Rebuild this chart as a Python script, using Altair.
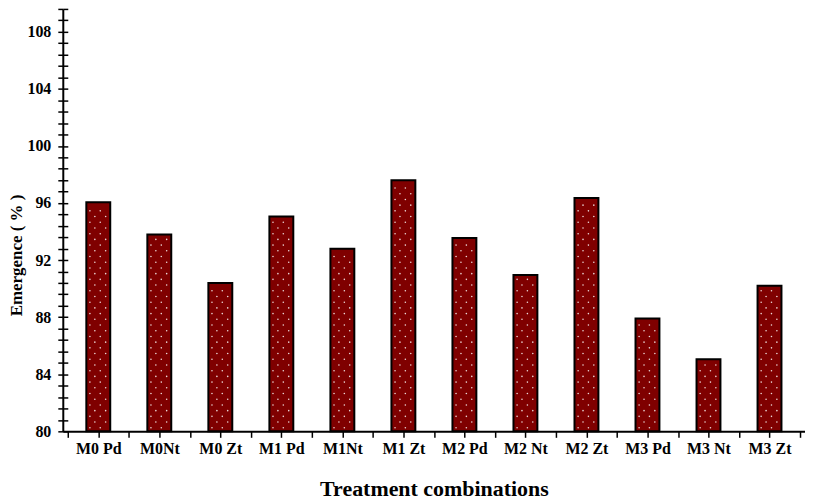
import json
import altair as alt
import pandas as pd

# ---- data ----
categories = ["M0 Pd", "M0Nt", "M0 Zt", "M1 Pd", "M1Nt", "M1 Zt",
              "M2 Pd", "M2 Nt", "M2 Zt", "M3 Pd", "M3 Nt", "M3 Zt"]
emergence = [96.05, 93.8, 90.4, 95.05, 92.8, 97.6,
             93.55, 90.95, 96.35, 87.9, 85.05, 90.2]
y_tick_values = [round(80 + 0.8 * i, 1) for i in range(38)]   # minor unit 0.8
x_tick_values = [i * 0.5 - 0.5 for i in range(25)]            # band edges + centres

W, H = 745, 424
FONT = "Liberation Serif"
px_per_x = W / 12.0

df = pd.DataFrame({"idx": list(range(len(categories))), "cat": categories, "val": emergence})

# white dotted texture inside each bar (derived from the bar values)
rows = []
for i, v in enumerate(emergence):
    k = 0
    y = 80.25
    while y < v - 0.2:
        offs = (-8.5, 2.0) if k % 2 == 0 else (-3.5, 7.5)
        for o in offs:
            rows.append({"idx": i + o / px_per_x, "y": y})
        y += 0.4
        k += 1
dots_df = pd.DataFrame(rows)

xscale = alt.Scale(domain=[-0.5, 11.5], nice=False, zero=False)
yscale = alt.Scale(domain=[80, 109.6], nice=False, zero=False)

names_js = json.dumps(categories)

x_axis = alt.Axis(
    values=x_tick_values,
    labelExpr=f"datum.value % 1 == 0 ? {names_js}[datum.value] : ''",
    title="Treatment combinations",
    orient="bottom",
    tickSize=6, tickWidth=1.5, tickColor="black",
    domainColor="black", domainWidth=2,
    labelFont=FONT, labelFontSize=16, labelFontWeight="bold", labelColor="black",
    labelPadding=3, labelOverlap=False, labelFlush=False, labelAngle=0,
    titleFont=FONT, titleFontSize=22, titleFontWeight="bold", titleColor="black",
    titlePadding=22, grid=False,
)

y_axis_main = alt.Axis(
    values=y_tick_values,
    labelExpr="abs(datum.value/4 - round(datum.value/4)) < 0.01 ? datum.value : ''",
    title="Emergence ( % )",
    orient="left",
    tickSize=5, tickWidth=1.5, tickColor="black",
    domainColor="black", domainWidth=2,
    labelFont=FONT, labelFontSize=16, labelFontWeight="bold", labelColor="black",
    labelPadding=7, labelOverlap=False, labelFlush=False,
    titleFont=FONT, titleFontSize=17, titleFontWeight="bold", titleColor="black",
    titlePadding=1, titleY=247, grid=False,
)

y_axis_inner = alt.Axis(
    values=y_tick_values, orient="left", offset=-5,
    tickSize=5, tickWidth=1.5, tickColor="black",
    labels=False, domain=False, title=None, grid=False,
)

bars = alt.Chart(df).mark_bar(
    size=24, color="#7f0000", stroke="black", strokeWidth=2
).encode(
    x=alt.X("idx:Q", scale=xscale, axis=x_axis),
    y=alt.Y("val:Q", scale=yscale, axis=y_axis_main),
    y2=alt.datum(80),
)

dots = alt.Chart(dots_df).mark_circle(
    size=2.5, color="white", opacity=0.85
).encode(
    x=alt.X("idx:Q", scale=xscale, axis=x_axis),
    y=alt.Y("y:Q", scale=yscale, axis=y_axis_inner),
)

chart = alt.layer(bars, dots).resolve_axis(y="independent").properties(
    width=W, height=H,
    padding={"left": 55, "top": 0, "right": 0, "bottom": 69},
    autosize=alt.AutoSizeParams(type="none"),
).configure_view(stroke=None)

chart.save("out.html", embed_options={"renderer": "svg", "actions": False})
